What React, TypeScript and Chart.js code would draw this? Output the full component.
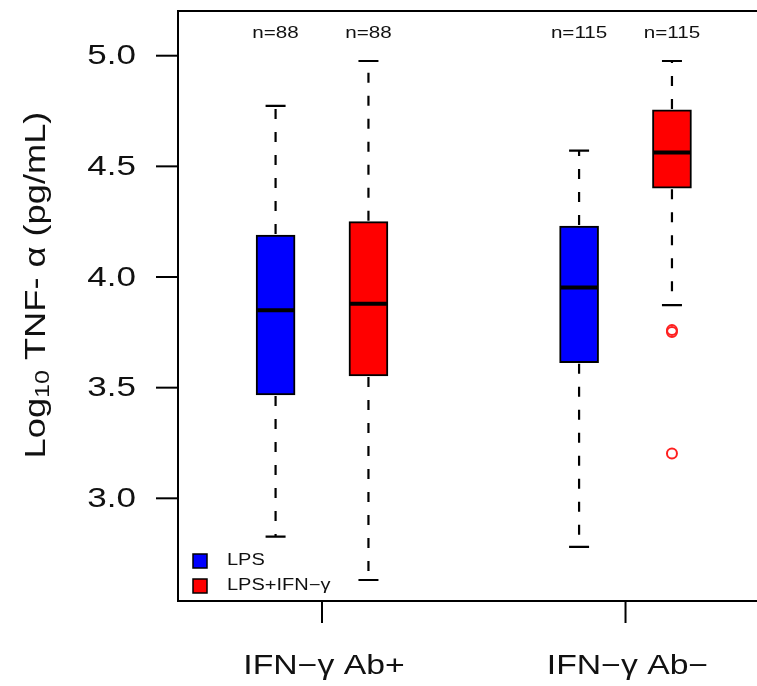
import React, { useEffect, useRef } from "react";
import { Chart, registerables } from "chart.js";

Chart.register(...registerables);

// ---- data ----
const groupLabels = ["IFN\u2212\u03b3 Ab+", "IFN\u2212\u03b3 Ab\u2212"];
const groupPos = [1, 2];
const seriesNames = ["LPS", "LPS+IFN\u2212\u03b3"];
const seriesColors = ["#0000FF", "#FF0000"];
const seriesOffset = [-0.153, 0.153];

const lpsMin = [2.827, 2.781];
const lpsQ1 = [3.467, 3.613];
const lpsMed = [3.85, 3.953];
const lpsQ3 = [4.19, 4.23];
const lpsMax = [4.773, 4.571];
const lpsN = [88, 115];

const ifnMin = [2.631, 3.873];
const ifnQ1 = [3.553, 4.401];
const ifnMed = [3.879, 4.563];
const ifnQ3 = [4.25, 4.755];
const ifnMax = [4.976, 4.976];
const ifnN = [88, 115];

const outlierGroup = [1, 1, 1];
const outlierValue = [3.76, 3.752, 3.203];

const yTicks = [3.0, 3.5, 4.0, 4.5, 5.0];
const yMin = 2.536;
const yMax = 5.202;
const xMin = 0.5255;
const xMax = 2.4332;
const nLabelValue = 5.1;

const series = [
  { min: lpsMin, q1: lpsQ1, med: lpsMed, q3: lpsQ3, max: lpsMax, n: lpsN },
  { min: ifnMin, q1: ifnQ1, med: ifnMed, q3: ifnQ3, max: ifnMax, n: ifnN },
];

// ---- style ----
const FONT = "'Liberation Sans', Arial, Helvetica, sans-serif";
const STRETCH = 1.25;
const BOX_PX = 39;
const CAP_HALF = 10;
const TEXT = "#111";

function stretchText(ctx: CanvasRenderingContext2D, text: string, x: number, y: number, size: number, align: CanvasTextAlign) {
  ctx.save();
  ctx.translate(x, y);
  ctx.scale(STRETCH, 1);
  ctx.font = `${size}px ${FONT}`;
  ctx.textAlign = align;
  ctx.textBaseline = "middle";
  ctx.fillStyle = TEXT;
  ctx.fillText(text, 0, 0);
  ctx.restore();
}

const boxPlugin = {
  id: "boxExtras",
  afterDatasetsDraw(chart: any) {
    const ctx: CanvasRenderingContext2D = chart.ctx;
    const xs = chart.scales.x;
    const ys = chart.scales.y;
    const area = chart.chartArea;
    ctx.save();
    series.forEach((s, si) => {
      groupPos.forEach((g, gi) => {
        const px = xs.getPixelForValue(g + seriesOffset[si]);
        const yq1 = ys.getPixelForValue(s.q1[gi]);
        const yq3 = ys.getPixelForValue(s.q3[gi]);
        const ylo = ys.getPixelForValue(s.min[gi]);
        const yhi = ys.getPixelForValue(s.max[gi]);
        const ymed = ys.getPixelForValue(s.med[gi]);
        ctx.strokeStyle = "#000";
        ctx.lineWidth = 2.2;
        ctx.setLineDash([10, 13]);
        ctx.beginPath();
        ctx.moveTo(px, yq3 - 1);
        ctx.lineTo(px, yhi);
        ctx.moveTo(px, yq1 + 1);
        ctx.lineTo(px, ylo);
        ctx.stroke();
        ctx.setLineDash([]);
        ctx.beginPath();
        ctx.moveTo(px - CAP_HALF, yhi);
        ctx.lineTo(px + CAP_HALF, yhi);
        ctx.moveTo(px - CAP_HALF, ylo);
        ctx.lineTo(px + CAP_HALF, ylo);
        ctx.stroke();
        ctx.lineWidth = 4;
        ctx.beginPath();
        ctx.moveTo(px - BOX_PX / 2 + 1, ymed);
        ctx.lineTo(px + BOX_PX / 2 - 1, ymed);
        ctx.stroke();
        stretchText(ctx, `n=${s.n[gi]}`, px, ys.getPixelForValue(nLabelValue), 16.5, "center");
      });
    });
    // frame (left, top, bottom; right edge falls off canvas)
    ctx.strokeStyle = "#000";
    ctx.lineWidth = 2;
    ctx.beginPath();
    ctx.moveTo(chart.width + 2, area.top);
    ctx.lineTo(area.left, area.top);
    ctx.lineTo(area.left, area.bottom);
    ctx.lineTo(chart.width + 2, area.bottom);
    ctx.stroke();
    yTicks.forEach((t) => {
      const py = ys.getPixelForValue(t);
      ctx.beginPath();
      ctx.moveTo(area.left - 22, py);
      ctx.lineTo(area.left, py);
      ctx.stroke();
      stretchText(ctx, t.toFixed(1), area.left - 42, py + 1, 28, "right");
    });
    groupPos.forEach((g, gi) => {
      const px = xs.getPixelForValue(g);
      ctx.beginPath();
      ctx.moveTo(px, area.bottom);
      ctx.lineTo(px, area.bottom + 22);
      ctx.stroke();
      stretchText(ctx, groupLabels[gi], px + 2, area.bottom + 66, 27, "center");
    });
    // y title with subscript
    ctx.save();
    ctx.translate(37, 285);
    ctx.rotate(-Math.PI / 2);
    ctx.scale(STRETCH, 1);
    ctx.fillStyle = TEXT;
    ctx.textBaseline = "middle";
    ctx.textAlign = "left";
    const big = `29px ${FONT}`;
    const small = `20px ${FONT}`;
    const p1 = "Log";
    const p2 = "10";
    const p3 = " TNF- \u03b1 (pg/mL)";
    ctx.font = big;
    const w1 = ctx.measureText(p1).width;
    const w3 = ctx.measureText(p3).width;
    ctx.font = small;
    const w2 = ctx.measureText(p2).width;
    let x0 = -(w1 + w2 + w3) / 2;
    ctx.font = big;
    ctx.fillText(p1, x0, 0);
    x0 += w1;
    ctx.font = small;
    ctx.fillText(p2, x0, 6);
    x0 += w2;
    ctx.font = big;
    ctx.fillText(p3, x0, 0);
    ctx.restore();
    // legend
    const lx = 193;
    const ly = [561, 586];
    seriesNames.forEach((name, i) => {
      ctx.fillStyle = seriesColors[i];
      ctx.fillRect(lx, ly[i] - 7, 14, 14);
      ctx.strokeStyle = "#000";
      ctx.lineWidth = 1.5;
      ctx.strokeRect(lx, ly[i] - 7, 14, 14);
      stretchText(ctx, name, lx + 34, ly[i], 16, "left");
    });
    ctx.restore();
  },
};

export default function App() {
  const ref = useRef<HTMLCanvasElement | null>(null);
  useEffect(() => {
    if (!ref.current) return;
    const datasets: any[] = series.map((s, si) => ({
      type: "bar",
      label: seriesNames[si],
      data: groupPos.map((g, gi) => ({ x: g + seriesOffset[si], y: [s.q1[gi], s.q3[gi]] })),
      backgroundColor: seriesColors[si],
      borderColor: "#000",
      borderWidth: 2,
      borderSkipped: false,
      barThickness: BOX_PX,
      grouped: false,
    }));
    datasets.push({
      type: "scatter",
      label: "outliers",
      data: outlierGroup.map((gi, i) => ({ x: groupPos[gi] + seriesOffset[1], y: outlierValue[i] })),
      pointStyle: "circle",
      pointRadius: 5,
      borderWidth: 2,
      borderColor: "#FF2020",
      backgroundColor: "rgba(0,0,0,0)",
    });
    const chart = new Chart(ref.current, {
      type: "bar",
      data: { datasets },
      options: {
        responsive: false,
        animation: false,
        layout: { autoPadding: false, padding: { left: 178, top: 11, bottom: 85, right: 0 } },
        plugins: { legend: { display: false }, tooltip: { enabled: false } },
        scales: {
          x: { type: "linear", min: xMin, max: xMax, display: false, offset: false },
          y: { type: "linear", min: yMin, max: yMax, display: false },
        },
      },
      plugins: [boxPlugin],
    } as any);
    return () => chart.destroy();
  }, []);
  return (
    <div style={{ position: "absolute", left: 0, top: 0, width: 757, height: 686, background: "#fff" }}>
      <canvas ref={ref} width={757} height={686} />
    </div>
  );
}
